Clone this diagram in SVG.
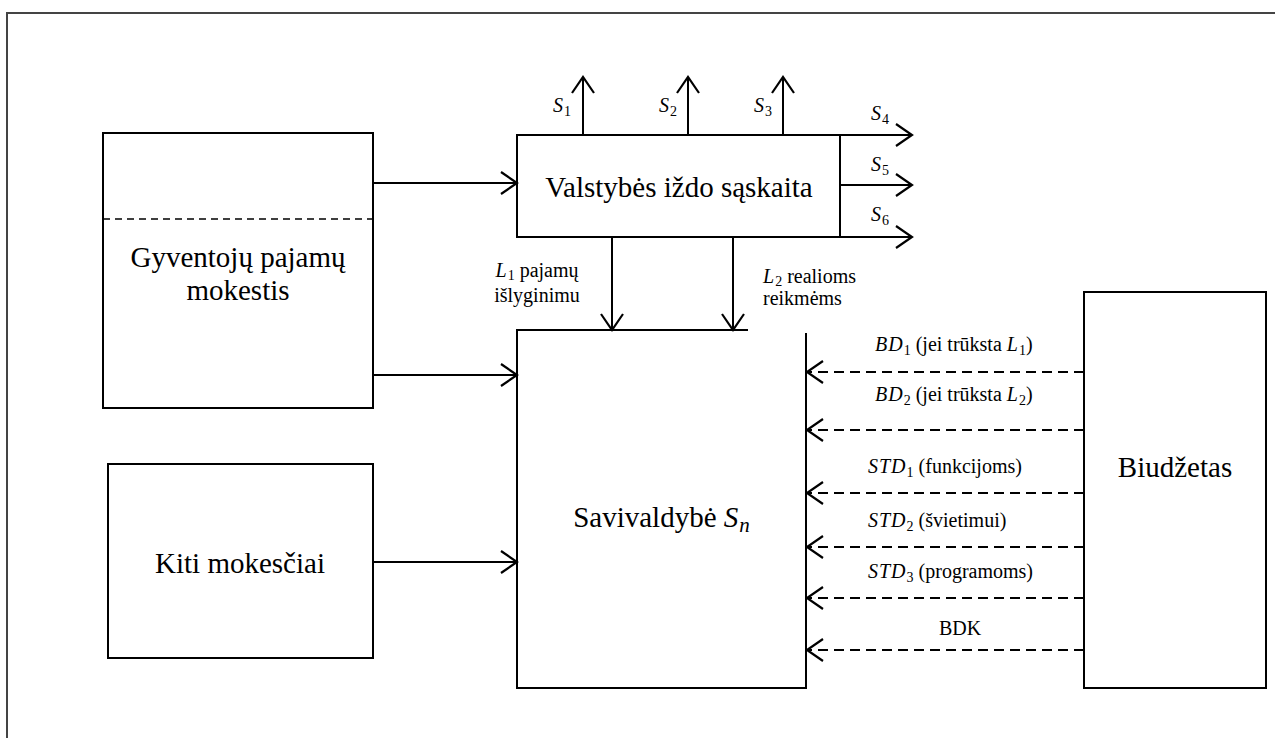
<svg xmlns="http://www.w3.org/2000/svg" width="1275" height="738" viewBox="0 0 1275 738">
<style>
.box{fill:none;stroke:#000;stroke-width:2}
.ln{fill:none;stroke:#000;stroke-width:2}
.dash{fill:none;stroke:#000;stroke-width:2;stroke-dasharray:10 6}
.m{font-style:italic;letter-spacing:1px}
</style>
<defs>
<marker id="arr" viewBox="0 0 17 22" refX="16" refY="11" markerWidth="17" markerHeight="22" markerUnits="userSpaceOnUse" orient="auto" overflow="visible">
<path d="M0,0 L16,11 L0,22" fill="none" stroke="#000" stroke-width="2.2" stroke-dasharray="none"/>
</marker>
</defs>
<rect x="0" y="0" width="1275" height="738" fill="#fff"/>
<path d="M7,738 L7,13 L1275,13" fill="none" stroke="#444" stroke-width="2"/>

<g id="gpm">
<rect class="box" x="103" y="133" width="270" height="275"/>
<line x1="103" y1="219" x2="373" y2="219" stroke="#000" stroke-width="1.6" stroke-dasharray="7 5"/>
<text x="238" y="267" text-anchor="middle" font-family="Liberation Serif" font-size="29">Gyventojų pajamų</text>
<text x="238" y="300" text-anchor="middle" font-family="Liberation Serif" font-size="29">mokestis</text>
</g>

<g id="kiti">
<rect class="box" x="108" y="464" width="265" height="194"/>
<text x="240" y="573" text-anchor="middle" font-family="Liberation Serif" font-size="29">Kiti mokesčiai</text>
</g>

<g id="izdas">
<rect class="box" x="517" y="135" width="323" height="102"/>
<text x="679" y="197" text-anchor="middle" font-family="Liberation Serif" font-size="29">Valstybės iždo sąskaita</text>
</g>

<g id="savivaldybe">
<path class="box" d="M748,330 L517,330 L517,688 L806,688 L806,333"/>
<text x="662" y="527" text-anchor="middle" font-family="Liberation Serif" font-size="29">Savivaldybė <tspan class="m">S</tspan><tspan class="m" font-size="21" dy="5">n</tspan></text>
</g>

<g id="biudzetas">
<rect class="box" x="1084" y="292" width="182" height="396"/>
<text x="1175" y="477" text-anchor="middle" font-family="Liberation Serif" font-size="29">Biudžetas</text>
</g>

<g id="connectors">
<line class="ln" x1="373" y1="183" x2="517" y2="183" marker-end="url(#arr)"/>
<line class="ln" x1="373" y1="375" x2="517" y2="375" marker-end="url(#arr)"/>
<line class="ln" x1="373" y1="562" x2="517" y2="562" marker-end="url(#arr)"/>

<line class="ln" x1="583" y1="135" x2="583" y2="77" marker-end="url(#arr)"/>
<line class="ln" x1="688" y1="135" x2="688" y2="77" marker-end="url(#arr)"/>
<line class="ln" x1="783" y1="135" x2="783" y2="77" marker-end="url(#arr)"/>
<line class="ln" x1="840" y1="135" x2="912" y2="135" marker-end="url(#arr)"/>
<line class="ln" x1="840" y1="185" x2="912" y2="185" marker-end="url(#arr)"/>
<line class="ln" x1="840" y1="237" x2="912" y2="237" marker-end="url(#arr)"/>

<line class="ln" x1="612" y1="237" x2="612" y2="330" marker-end="url(#arr)"/>
<line class="ln" x1="733" y1="237" x2="733" y2="330" marker-end="url(#arr)"/>

<line class="dash" x1="1084" y1="372" x2="807" y2="372" marker-end="url(#arr)"/>
<line class="dash" x1="1084" y1="430" x2="807" y2="430" marker-end="url(#arr)"/>
<line class="dash" x1="1084" y1="493" x2="807" y2="493" marker-end="url(#arr)"/>
<line class="dash" x1="1084" y1="547" x2="807" y2="547" marker-end="url(#arr)"/>
<line class="dash" x1="1084" y1="598" x2="807" y2="598" marker-end="url(#arr)"/>
<line class="dash" x1="1084" y1="650" x2="807" y2="650" marker-end="url(#arr)"/>
</g>

<g id="labels" font-family="Liberation Serif" font-size="20">
<text x="553" y="112"><tspan class="m">S</tspan><tspan font-size="14" dy="4">1</tspan></text>
<text x="659" y="112"><tspan class="m">S</tspan><tspan font-size="14" dy="4">2</tspan></text>
<text x="754" y="112"><tspan class="m">S</tspan><tspan font-size="14" dy="4">3</tspan></text>
<text x="871" y="120"><tspan class="m">S</tspan><tspan font-size="14" dy="4">4</tspan></text>
<text x="871" y="171"><tspan class="m">S</tspan><tspan font-size="14" dy="4">5</tspan></text>
<text x="871" y="221"><tspan class="m">S</tspan><tspan font-size="14" dy="4">6</tspan></text>

<text x="537" y="277" text-anchor="middle"><tspan class="m">L</tspan><tspan font-size="14" dy="3">1</tspan><tspan dy="-3"> pajamų</tspan></text>
<text x="537" y="302" text-anchor="middle">išlyginimu</text>
<text x="763" y="283"><tspan class="m">L</tspan><tspan font-size="14" dy="3">2</tspan><tspan dy="-3"> realioms</tspan></text>
<text x="763" y="305">reikmėms</text>

<text x="875" y="351"><tspan class="m">BD</tspan><tspan font-size="14" dy="4">1</tspan><tspan dy="-4"> (jei trūksta </tspan><tspan class="m">L</tspan><tspan font-size="14" dy="4">1</tspan><tspan dy="-4">)</tspan></text>
<text x="875" y="401"><tspan class="m">BD</tspan><tspan font-size="14" dy="4">2</tspan><tspan dy="-4"> (jei trūksta </tspan><tspan class="m">L</tspan><tspan font-size="14" dy="4">2</tspan><tspan dy="-4">)</tspan></text>
<text x="868" y="473"><tspan class="m">STD</tspan><tspan font-size="14" dy="4">1</tspan><tspan dy="-4"> (funkcijoms)</tspan></text>
<text x="868" y="527"><tspan class="m">STD</tspan><tspan font-size="14" dy="4">2</tspan><tspan dy="-4"> (švietimui)</tspan></text>
<text x="868" y="578"><tspan class="m">STD</tspan><tspan font-size="14" dy="4">3</tspan><tspan dy="-4"> (programoms)</tspan></text>
<text x="960" y="635" text-anchor="middle">BDK</text>
</g>
</svg>
